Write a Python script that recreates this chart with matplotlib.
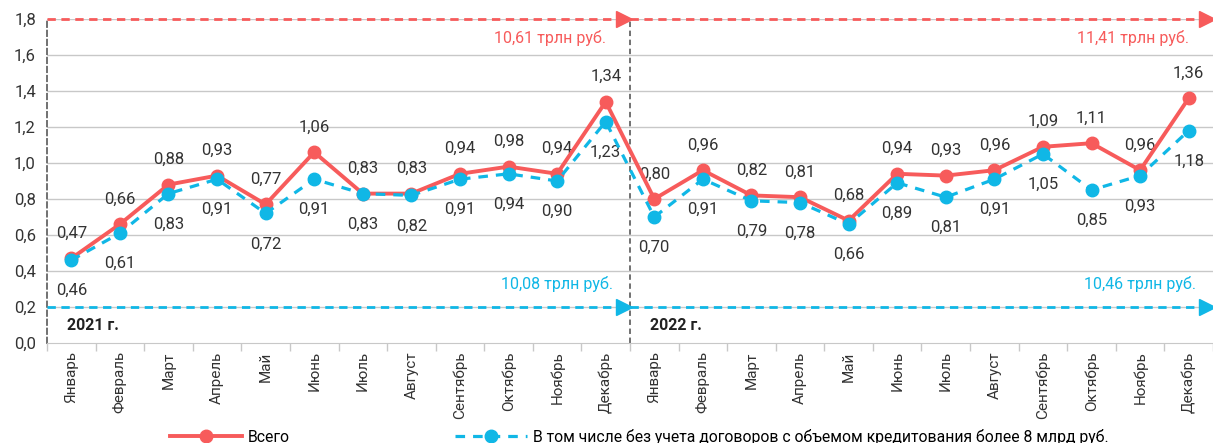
import matplotlib
matplotlib.use("Agg")
import matplotlib.pyplot as plt
import numpy as np

# data
months = ["Январь", "Февраль", "Март", "Апрель", "Май", "Июнь", "Июль", "Август",
          "Сентябрь", "Октябрь", "Ноябрь", "Декабрь"]
labels = months + months
total = [0.47, 0.66, 0.88, 0.93, 0.77, 1.06, 0.83, 0.83, 0.94, 0.98, 0.94, 1.34,
         0.80, 0.96, 0.82, 0.81, 0.68, 0.94, 0.93, 0.96, 1.09, 1.11, 0.96, 1.36]
excl = [0.46, 0.61, 0.83, 0.91, 0.72, 0.91, 0.83, 0.82, 0.91, 0.94, 0.90, 1.23,
        0.70, 0.91, 0.79, 0.78, 0.66, 0.89, 0.81, 0.91, 1.05, 0.85, 0.93, 1.18]
years = ["2021 г.", "2022 г."]
sum_total = ["10,61 трлн руб.", "11,41 трлн руб."]
sum_excl = ["10,08 трлн руб.", "10,46 трлн руб."]

red = "#F75B5B"
blue = "#10B7E6"
grid = "#C8C8C8"

plt.rcParams["font.family"] = ["Roboto", "DejaVu Sans"]

fig = plt.figure(figsize=(12.13, 4.43), dpi=100)
ax = fig.add_axes([47/1213, 100/443, 1166/1213, 324/443])

x = np.arange(len(labels))

# grid
for g in np.arange(0.2, 1.81, 0.2):
    ax.axhline(g, color=grid, lw=1, zorder=0)

ax.plot(x, total, color=red, lw=2.8, marker="o", ms=9, zorder=4, label="Всего")
ax.plot(x, excl, color=blue, lw=2.3, ls=(0, (3, 2.5)), marker="o", ms=9, zorder=5,
        label="В том числе без учета договоров с объемом кредитования более 8 млрд руб.")

for xi, v in zip(x, total):
    ax.annotate(f"{v:.2f}".replace(".", ","), (xi, v), xytext=(0, 18),
                textcoords="offset points", ha="center", va="center",
                fontsize=12, color="#333333")
for xi, v in zip(x, excl):
    ax.annotate(f"{v:.2f}".replace(".", ","), (xi, v), xytext=(0, -22),
                textcoords="offset points", ha="center", va="center",
                fontsize=12, color="#333333")

# year arrows
for i in range(2):
    x0 = -0.5 + 12 * i
    x1 = x0 + 12
    ax.plot([x0, x1 - 0.12], [1.8, 1.8], color=red, lw=2, ls=(0, (3, 2)),
            clip_on=False, zorder=3)
    ax.plot([x1 - 0.12], [1.8], marker=">", color=red, ms=11, clip_on=False, zorder=3)
    ax.plot([x0, x1 - 0.12], [0.2, 0.2], color=blue, lw=2, ls=(0, (3, 2)),
            clip_on=False, zorder=3)
    ax.plot([x1 - 0.12], [0.2], marker=">", color=blue, ms=11, clip_on=False, zorder=3)
    ax.text(x1 - 0.5, 1.695, sum_total[i], color=red, ha="right", va="center", fontsize=11.5)
    ax.text(x1 - 0.35, 0.325, sum_excl[i], color=blue, ha="right", va="center", fontsize=11.5)
    ax.text(x0 + 0.42, 0.095, years[i], ha="left", va="center", fontsize=11.5,
            fontweight="bold", color="#222222")

ax.plot([11.5, 11.5], [0, 1.8], color="#666666", lw=1.3, ls=(0, (3, 2)), zorder=2)

ax.set_xlim(-0.5, 23.5)
ax.set_ylim(0, 1.8)
ax.set_yticks(np.arange(0, 1.81, 0.2))
ax.set_yticklabels([f"{t:.1f}".replace(".", ",") for t in np.arange(0, 1.81, 0.2)],
                   fontsize=12, color="#333333")
ax.tick_params(axis="y", length=0, pad=8)
ax.set_xticks(x)
ax.set_xticklabels(labels, rotation=90, fontsize=11, color="#333333")
ax.set_xticks(np.arange(-0.5, 24, 1), minor=True)
ax.tick_params(axis="x", which="major", length=0, pad=6)
ax.tick_params(axis="x", which="minor", length=6, color=grid, width=1)

for s in ["top", "right"]:
    ax.spines[s].set_visible(False)
ax.spines["bottom"].set_color(grid)
ax.spines["left"].set_color("#666666")
ax.spines["left"].set_linestyle((0, (3, 2)))
ax.spines["left"].set_linewidth(1.3)

fig.legend(loc="center", bbox_to_anchor=(0.527, 0.014), ncol=2, frameon=False,
           fontsize=11.3, handlelength=4.6, columnspacing=10.5, handletextpad=0.4)

fig.savefig("out.png", dpi=100)
